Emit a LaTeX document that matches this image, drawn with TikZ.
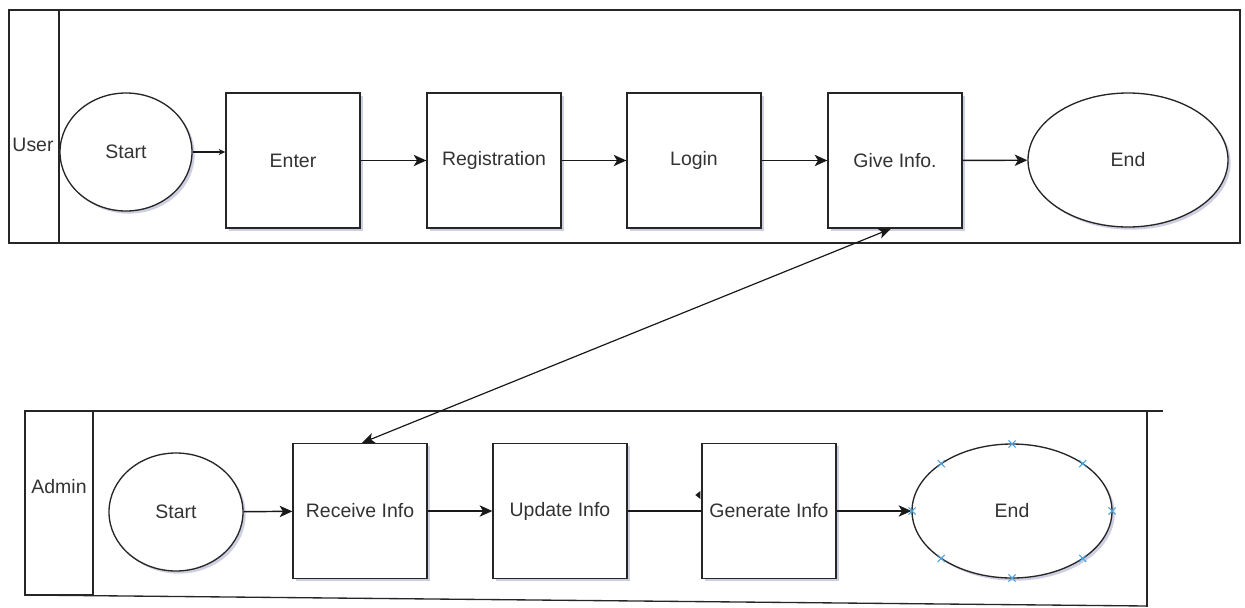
\documentclass[tikz,border=0pt]{standalone}
\usepackage{fontspec}
\setmainfont{Liberation Sans}
\usetikzlibrary{arrows.meta,shapes.geometric,shapes.misc,shadows}

\definecolor{txtgray}{HTML}{333333}
\definecolor{markblue}{HTML}{4AA3DF}

\begin{document}
\begin{tikzpicture}[x=0.75pt,y=0.75pt,yscale=-1,xscale=1,
  font=\fontsize{14.6}{17}\selectfont,
  every node/.style={text=txtgray},
  lane/.style={draw=black!85,line width=1pt},
  softshadow/.style={drop shadow={shadow xshift=2pt,shadow yshift=-2pt,opacity=0.3,fill=blue!25!gray}},
  procbox/.style={draw=black!85,line width=1pt,fill=white,minimum width=100.5pt,minimum height=101.25pt,inner sep=0pt,softshadow},
  terminal/.style={ellipse,draw=black!85,line width=1pt,fill=white,inner sep=0pt,softshadow},
  tip/.style={-{Stealth[length=9.5pt,width=8.5pt,inset=2.5pt]}},
  flow/.style={draw=black!90,line width=1.1pt,tip},
  xmark/.style={cross out,draw=markblue,line width=0.8pt,minimum size=4.5pt,inner sep=0pt}]
\useasboundingbox (0,0) rectangle (1245,607);

%Shape: Rectangle [user lane]
\draw[lane] (9,10) rectangle (1240,243);
%Straight Lines [user lane divider]
\draw[lane] (59,10) -- (59,243);
%Straight Lines [admin lane]
\draw[lane] (1163,411) -- (25,411) -- (25,595) -- (93,595);
\draw[lane] (93,411) -- (93,595);
\draw[lane] (25,595) -- (1147,606);
\draw[lane] (1147,411) -- (1147,607);

% Text Node
\node (userlbl) at (33,145) {User};
\node (adminlbl) at (59,487) {Admin};

%Shape: Ellipse / Rectangle [user row]
\node[terminal,minimum width=99pt,minimum height=88.5pt] (ustart) at (126,152) {Start};
\node[procbox] (enter) at (293,160.5) {Enter};
\node[procbox] (reg) at (494,160.5) {Registration};
\node[procbox] (login) at (694,160.5) {Login};
\node[procbox] (give) at (895,160.5) {Give Info.};
\node[terminal,minimum width=150pt,minimum height=100.5pt] (uend) at (1128,160) {End};

%Shape: Ellipse / Rectangle [admin row]
\node[terminal,minimum width=100.5pt,minimum height=88.5pt] (astart) at (176,512) {Start};
\node[procbox] (recv) at (360,511) {Receive Info};
\node[procbox] (update) at (560,511) {Update Info};
\node[procbox] (gen) at (769,511) {Generate Info};
\node[terminal,minimum width=150pt,minimum height=100.5pt] (aend) at (1012,511) {End};

%Straight Lines [user flow]
\draw[flow,-{Stealth[length=5pt,width=4.5pt]}] (ustart.east) -- (ustart.east -| enter.west);
\draw[flow] (enter) -- (reg);
\draw[flow] (reg) -- (login);
\draw[flow] (login) -- (give);
\draw[flow] (give) -- (uend);

%Straight Lines [admin flow]
\draw[flow] (astart) -- (recv);
\draw[flow] (recv) -- (update);
\draw[draw=black!90,line width=1.1pt] (update) -- (gen);
\draw[flow] (gen) -- (aend);

%Straight Lines [between lanes]
\draw[flow,{Stealth[length=9.5pt,width=8pt,inset=2.5pt]}-{Stealth[length=9.5pt,width=8pt,inset=2.5pt]},line width=0.9pt] ([xshift=-3pt]give.south) -- ([xshift=1.5pt]recv.north);

%Shape: small tip by Generate Info
\fill[black!90] ([yshift=-12pt]gen.west) ++(-1,0) -- ++(0,-4) -- ++(-5,4) -- ++(5,4) -- cycle;

%Handles on admin End
\foreach \a in {0,45,...,315}
  \node[xmark] at ([shift={(\a:100 and 67)}]aend.center) {};

\end{tikzpicture}
\end{document}
